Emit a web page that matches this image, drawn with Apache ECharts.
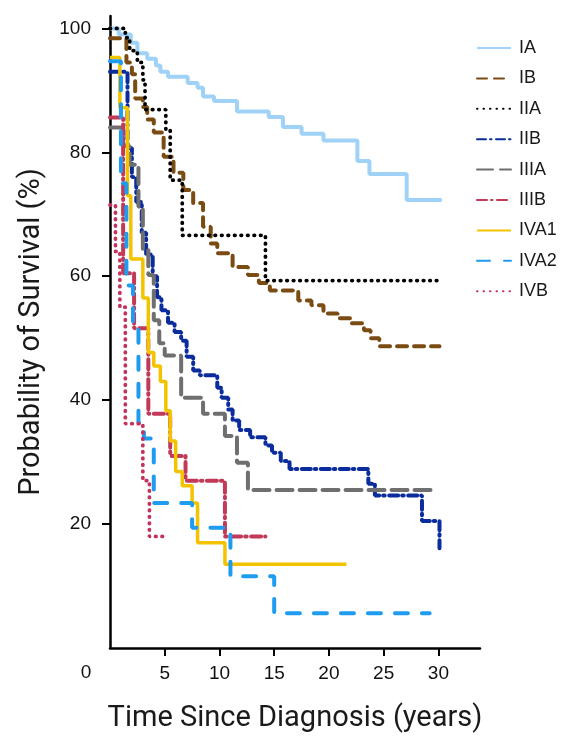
<!DOCTYPE html>
<html>
<head>
<meta charset="utf-8">
<script src="https://cdn.jsdelivr.net/npm/echarts@6/dist/echarts.min.js"></script>
<style>
  html,body{margin:0;padding:0;background:#fff;}
  #chart{width:563px;height:736px;}
</style>
</head>
<body>
<div id="chart"></div>
<script>
// Kaplan-Meier steps: [years, survival %], value holds until the next point
const stageNames = ['IA','IB','IIA','IIB','IIIA','IIIB','IVA1','IVA2','IVB'];

const IA = [[0,100],[0.8,99],[1.9,97.7],[2.5,96],[3.4,95.1],[4.2,94],[4.6,93],[5.3,92.2],[7.1,91.2],[8,90.4],[8.5,89],[9.5,88.3],[11.6,86.6],[14.5,85.7],[15.8,84.1],[17.5,83],[19.5,81.9],[22.6,78.6],[23.7,76.5],[27.1,72.3],[30.3,72.3]];
const IB = [[0,98.4],[1.5,94.5],[2.0,92.6],[2.3,88.7],[3.0,87.3],[3.4,85.3],[4.0,83.2],[4.9,79.3],[5.8,76.7],[6.7,73.9],[7.6,71.8],[8.5,68],[9.2,65.3],[9.8,63.7],[11.2,61.5],[12.6,60.2],[13.6,58.9],[14.6,57.7],[17.2,56.1],[18.4,55.3],[19.5,54],[20.8,53.2],[22,52.4],[23.2,51.3],[23.8,50],[24.6,48.7],[30.1,48.7]];
const IIA = [[0,100],[1.4,98.5],[1.8,96.4],[2.5,94.5],[3.0,91.7],[3.2,86.9],[5.1,83.5],[5.5,75.5],[6.6,66.6],[14.2,59.3],[30.1,59.3]];
const IIB = [[0,93],[1.6,80.7],[2.0,76],[2.4,72],[2.9,67],[3.3,63.5],[3.9,60],[4.3,56.6],[4.7,54.5],[5.3,52.5],[5.9,51],[6.5,49.6],[7.0,47],[7.6,44.8],[8.2,44],[9.8,42],[10.2,40.4],[10.8,38.5],[11.2,36.7],[11.8,35.2],[12.8,34],[14.2,32.7],[14.8,31.5],[15.6,30.2],[16.4,28.9],[23.6,26.5],[24.2,24.6],[28.5,20.5],[30.1,16.1]];
const IIIA = [[0,84],[1.2,81],[1.8,78],[2.6,71.2],[3.0,64.2],[3.5,60.2],[4.0,52.9],[4.5,49.2],[5.0,47.2],[6.5,40.4],[8.5,37.8],[10.5,34.2],[11.6,29.9],[12.6,25.5],[29.6,25.5]];
const IIIB = [[0,85.6],[1.2,60.5],[2.2,51.6],[3.5,37.8],[5.5,31],[6.9,27],[10.5,18],[14.2,18]];
const IVA1 = [[0,95.3],[0.9,87.2],[1.6,73],[1.9,62.8],[3.0,56.5],[3.5,47.7],[4.0,45.5],[4.6,43],[5.1,38.3],[5.5,33.4],[6.0,28.5],[6.6,26.2],[7.5,23.4],[8.0,17],[10.5,13.5],[21.6,13.5]];
const IVA2 = [[0,94.7],[1.0,75],[1.5,58.5],[2.1,51.8],[2.6,36.3],[3.1,33.8],[4.0,23.4],[7.5,19.4],[11.0,11.6],[15.0,5.6],[29.2,5.6]];
const IVB = [[0,71.5],[0.5,64],[0.9,55],[1.4,36.2],[3.0,27],[3.6,18],[4.8,18]];

const xTicks = [5,10,15,20,25,30];
const yTicks = [20,40,60,80,100];

const stageData = [IA,IB,IIA,IIB,IIIA,IIIB,IVA1,IVA2,IVB];
const stageColors = ['#9fd2f6','#7a4b12','#000000','#0b2c9c','#6f6f6f','#c23a57','#f4c300','#1f9bf0','#c2345c'];
const stageDash = ['solid',[10,7],[0.5,6],[9,4,1.5,4.5],[16,7],[10,4,1.5,4.5],'solid',[13,14],[0.5,6]];
const stageWidth = [4,4,3.8,4,4,4,3.5,4,3.8];

const font = '"Liberation Sans", Arial, sans-serif';

const myChart = echarts.init(document.getElementById('chart'));

const series = stageNames.map((name,i)=>({
  name:name,
  type:'line',
  step:'end',
  data:stageData[i],
  symbol:'none',
  lineStyle:{
    color:stageColors[i],
    width:stageWidth[i],
    type:stageDash[i],
    cap:(stageDash[i]==='solid')?'butt':'round'
  },
  itemStyle:{color:stageColors[i]},
  animation:false
}));

const option = {
  animation:false,
  grid:{left:110,right:83,top:16,bottom:88,outerBoundsMode:'none'},
  legend:{
    orient:'vertical',
    left:476,
    top:39,
    padding:0,
    itemWidth:34,
    itemHeight:14,
    itemGap:12.4,
    itemStyle:{opacity:0},
    textStyle:{fontFamily:font,fontSize:18,color:'#1a1a1a',padding:[0,0,0,3]},
    data:stageNames
  },
  xAxis:{
    type:'value',
    min:0,
    max:33.8,
    name:'Time Since Diagnosis (years)',
    nameLocation:'middle',
    nameGap:56,
    nameTextStyle:{fontFamily:'Roboto',fontSize:29,color:'#1a1a1a'},
    axisLine:{show:true,onZero:false,lineStyle:{color:'#000',width:2.5}},
    axisTick:{show:true,length:8,lineStyle:{color:'#000',width:2},customValues:xTicks},
    axisLabel:{fontFamily:font,fontSize:19,color:'#111',margin:16,customValues:xTicks},
    splitLine:{show:false}
  },
  yAxis:{
    type:'value',
    min:0,
    max:102,
    name:'Probability of Survival (%)',
    nameLocation:'middle',
    nameGap:64,
    nameTextStyle:{fontFamily:'Roboto',fontSize:29,color:'#1a1a1a'},
    axisLine:{show:true,onZero:false,lineStyle:{color:'#000',width:2.5}},
    axisTick:{show:true,length:8,lineStyle:{color:'#000',width:2},customValues:yTicks},
    axisLabel:{fontFamily:font,fontSize:19,color:'#111',margin:19,customValues:yTicks},
    splitLine:{show:false}
  },
  graphic:[{
    type:'text',
    x:86,
    y:673,
    style:{text:'0',font:'19px "Liberation Sans", Arial, sans-serif',fill:'#111',textAlign:'center',textVerticalAlign:'middle'}
  }],
  series:series
};

myChart.setOption(option);
</script>
</body>
</html>
